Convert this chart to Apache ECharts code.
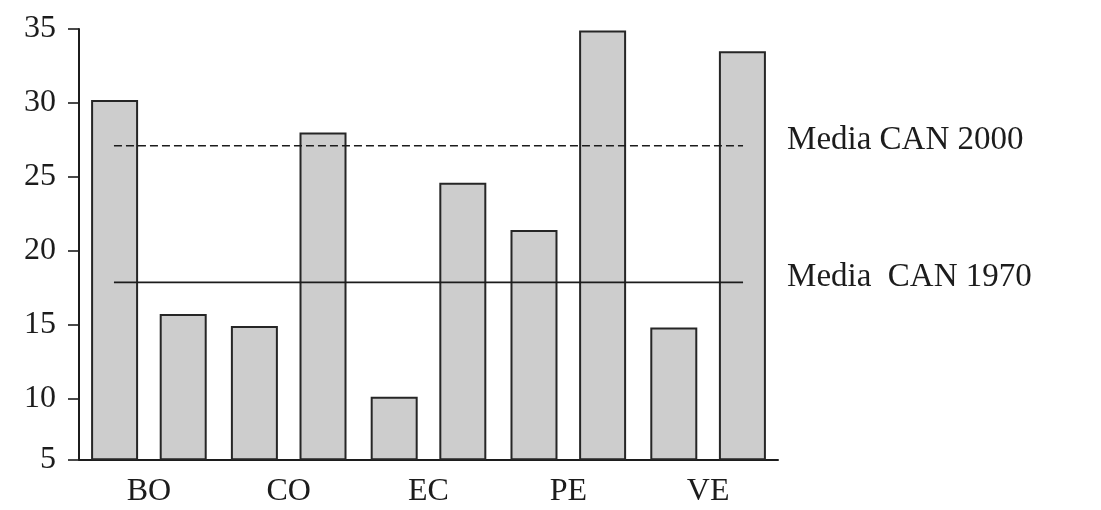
<!DOCTYPE html>
<html>
<head>
<meta charset="utf-8">
<script src="https://cdn.jsdelivr.net/npm/echarts@6/dist/echarts.min.js"></script>
<style>
  html, body { margin: 0; padding: 0; background: #ffffff; }
  #chart { width: 1101px; height: 510px; }
</style>
</head>
<body>
<div id="chart"></div>
<script>
// ---- data ----
const countries = ['BO', 'CO', 'EC', 'PE', 'VE'];
const values1970 = [30.2, 14.9, 10.1, 21.4, 14.8];
const values2000 = [15.7, 28.0, 24.6, 34.9, 33.5];
const meanCAN1970 = 17.85;
const meanCAN2000 = 27.1;
const meanLabel1970 = 'Media  CAN 1970';
const meanLabel2000 = 'Media CAN 2000';
const yTickValues = [5.87, 10, 15, 20, 25, 30, 35];
const yTickLabels = ['5', '10', '15', '20', '25', '30', '35'];

// one slot per bar (country x year) for the mean lines
const barSlots = [];
countries.forEach(c => { barSlots.push(c + ' 1970'); barSlots.push(c + ' 2000'); });

const FONT = '"Liberation Serif", "Times New Roman", serif';
const INK = '#1c1c1c';

const chart = echarts.init(document.getElementById('chart'), null, { renderer: 'canvas' });

function meanLine(name, value, dashed) {
  return {
    name: name,
    type: 'line',
    xAxisIndex: 1,
    data: [[0, value], [barSlots.length - 1, value]],
    symbol: 'none',
    silent: true,
    z: 5,
    lineStyle: { color: INK, width: 1.6, type: dashed ? [8, 4] : 'solid' },
    endLabel: {
      show: true,
      formatter: name,
      distance: 44,
      offset: [0, -5],
      color: INK,
      fontFamily: FONT,
      fontSize: 33
    }
  };
}

chart.setOption({
  animation: false,
  backgroundColor: '#ffffff',
  grid: { left: 79, right: 323, top: 29, bottom: 50.7, containLabel: false },
  xAxis: [
    {
      type: 'category',
      data: countries,
      axisLine: { show: true, lineStyle: { color: INK, width: 2 } },
      axisTick: { show: false },
      axisLabel: { color: INK, fontFamily: FONT, fontSize: 32, margin: 16 },
      splitLine: { show: false }
    },
    {
      type: 'category',
      data: barSlots,
      show: false
    }
  ],
  yAxis: {
    type: 'value',
    min: yTickValues[0],
    max: yTickValues[yTickValues.length - 1],
    axisLine: { show: true, lineStyle: { color: INK, width: 2 } },
    axisTick: { show: true, length: 11, customValues: yTickValues, lineStyle: { color: INK, width: 1.6 } },
    axisLabel: {
      customValues: yTickValues,
      formatter: v => yTickLabels[yTickValues.indexOf(v)] ?? '',
      color: INK, fontFamily: FONT, fontSize: 32, margin: 23
    },
    splitLine: { show: false }
  },
  series: [
    {
      name: '1970', type: 'bar', data: values1970,
      barWidth: 47, barGap: '46%',
      itemStyle: { color: '#cdcdcd', borderColor: '#262626', borderWidth: 2 }
    },
    {
      name: '2000', type: 'bar', data: values2000,
      barWidth: 47, barGap: '46%',
      itemStyle: { color: '#cdcdcd', borderColor: '#262626', borderWidth: 2 }
    },
    meanLine(meanLabel2000, meanCAN2000, true),
    meanLine(meanLabel1970, meanCAN1970, false)
  ]
});
</script>
</body>
</html>
